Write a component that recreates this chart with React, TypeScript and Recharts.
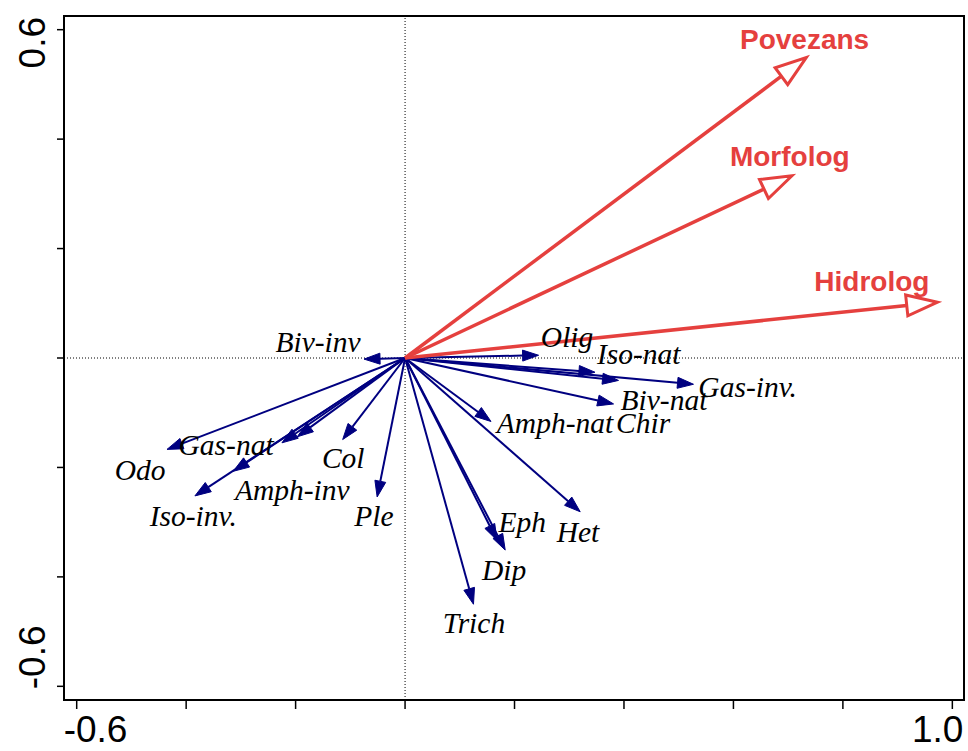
import React from 'react';
import {
  ScatterChart,
  Scatter,
  XAxis,
  YAxis,
  ReferenceLine,
  ReferenceArea,
} from 'recharts';

// environmental vectors (red)
const envNames = ['Povezans', 'Morfolog', 'Hidrolog'];
const envX = [0.733, 0.707, 0.973];
const envY = [0.549, 0.333, 0.102];
const envLabelX = [0.73, 0.703, 0.853];
const envLabelY = [0.584, 0.369, 0.141];

// taxa vectors (blue), tips
const taxaX = [
  -0.075, 0.244, 0.347, 0.39, 0.527, 0.381, 0.157, 0.32, 0.168, 0.183, 0.125,
  -0.051, -0.114, -0.225, -0.197, -0.314, -0.384, -0.435,
];
const taxaY = [
  -0.002, 0.005, -0.026, -0.041, -0.048, -0.084, -0.116, -0.281, -0.333, -0.351,
  -0.45, -0.254, -0.149, -0.155, -0.144, -0.207, -0.252, -0.167,
];

// taxa labels
const labelNames = [
  'Biv-inv', 'Olig', 'Iso-nat', 'Gas-inv.', 'Biv-nat', 'Amph-nat', 'Chir', 'Het',
  'Eph', 'Dip', 'Trich', 'Ple', 'Col', 'Gas-nat', 'Odo', 'Amph-inv', 'Iso-inv.',
];
const labelX = [
  -0.159, 0.296, 0.427, 0.626, 0.473, 0.274, 0.435, 0.316, 0.214, 0.181, 0.126,
  -0.057, -0.113, -0.327, -0.484, -0.206, -0.387,
];
const labelY = [
  0.029, 0.038, 0.007, -0.053, -0.077, -0.119, -0.119, -0.318, -0.3, -0.387,
  -0.484, -0.289, -0.184, -0.159, -0.205, -0.241, -0.289,
];

const xTicks = [-0.6, -0.4, -0.2, 0, 0.2, 0.4, 0.6, 0.8, 1.0];
const yTicks = [-0.6, -0.4, -0.2, 0, 0.2, 0.4, 0.6];
const xDomain = [-0.6232, 1.0213];
const yDomain = [-0.625, 0.625];

const BLUE = '#000080';
const RED = '#e5403e';

type Pt = { x: number; y: number };

function arrowLine(color: string, width: number, len: number, half: number, open: boolean) {
  return (props: any) => {
    const pts: Pt[] = props.points || [];
    if (pts.length < 2) return <g />;
    const [a, b] = pts;
    const dx = b.x - a.x;
    const dy = b.y - a.y;
    const d = Math.hypot(dx, dy) || 1;
    const ux = dx / d;
    const uy = dy / d;
    const bx = b.x - ux * len;
    const by = b.y - uy * len;
    const px = -uy;
    const py = ux;
    const tri = `${b.x},${b.y} ${bx + px * half},${by + py * half} ${bx - px * half},${by - py * half}`;
    return (
      <g>
        <line x1={a.x} y1={a.y} x2={bx} y2={by} stroke={color} strokeWidth={width} />
        <polygon
          points={tri}
          fill={open ? '#fff' : color}
          stroke={color}
          strokeWidth={open ? 3 : 1}
          strokeLinejoin="miter"
        />
      </g>
    );
  };
}

const XTick = (props: any) => {
  const { x, y, payload } = props;
  const v = payload.value;
  if (v !== -0.6 && v !== 1) return <g />;
  return (
    <text
      x={v < 0 ? x - 13 : x + 11}
      y={y + 31}
      textAnchor={v < 0 ? 'start' : 'end'}
      fontFamily="Liberation Sans, Arial, sans-serif"
      fontSize={37}
      fill="#000"
    >
      {v < 0 ? '-0.6' : '1.0'}
    </text>
  );
};

const YTick = (props: any) => {
  const { x, y, payload } = props;
  const v = payload.value;
  if (v !== -0.6 && v !== 0.6) return <g />;
  const cy = v > 0 ? y + 13 : y - 29;
  const bx = x - 10;
  return (
    <text
      x={bx}
      y={cy}
      transform={`rotate(-90, ${bx}, ${cy})`}
      textAnchor="middle"
      fontFamily="Liberation Sans, Arial, sans-serif"
      fontSize={37}
      fill="#000"
    >
      {v > 0 ? '0.6' : '-0.6'}
    </text>
  );
};

const taxaLabels = labelNames.map((name, i) => ({ name, x: labelX[i], y: labelY[i] }));
const envLabels = envNames.map((name, i) => ({ name, x: envLabelX[i], y: envLabelY[i] }));

export default function App() {
  return (
    <div style={{ position: 'absolute', left: 0, top: 0, width: 968, height: 751, background: '#fff' }}>
      <ScatterChart width={968} height={751} margin={{ top: 16, right: 4, bottom: 0, left: 0 }}>
        <XAxis
          type="number"
          dataKey="x"
          domain={xDomain}
          allowDataOverflow
          ticks={xTicks}
          interval={0}
          height={51}
          axisLine={false}
          tickSize={9}
          tickLine={{ stroke: '#000', strokeWidth: 1.5 }}
          tick={<XTick />}
        />
        <YAxis
          type="number"
          dataKey="y"
          domain={yDomain}
          allowDataOverflow
          ticks={yTicks}
          interval={0}
          width={64}
          axisLine={false}
          tickSize={7}
          tickLine={{ stroke: '#000', strokeWidth: 1.5 }}
          tick={<YTick />}
        />
        <ReferenceLine x={0} stroke="#000" strokeWidth={1} strokeDasharray="1 2" />
        <ReferenceLine y={0} stroke="#000" strokeWidth={1} strokeDasharray="1 2" />
        <ReferenceArea
          x1={xDomain[0]}
          x2={xDomain[1]}
          y1={yDomain[0]}
          y2={yDomain[1]}
          fill="none"
          fillOpacity={0}
          stroke="#000"
          strokeWidth={2}
        />
        {taxaX.map((tx, i) => (
          <Scatter
            key={'taxon' + i}
            data={[{ x: 0, y: 0 }, { x: tx, y: taxaY[i] }]}
            fill={BLUE}
            shape={() => <g />}
            line={arrowLine(BLUE, 2, 16, 5.5, false)}
            isAnimationActive={false}
          />
        ))}
        {envX.map((ex, i) => (
          <Scatter
            key={'env' + i}
            data={[{ x: 0, y: 0 }, { x: ex, y: envY[i] }]}
            fill={RED}
            shape={() => <g />}
            line={arrowLine(RED, 3.5, 31, 10.5, true)}
            isAnimationActive={false}
          />
        ))}
        <Scatter
          data={taxaLabels}
          isAnimationActive={false}
          shape={(p: any) => (
            <text
              x={p.cx}
              y={p.cy}
              dy="0.33em"
              textAnchor="middle"
              fontFamily="Liberation Serif, Times New Roman, serif"
              fontStyle="italic"
              fontSize={29.5}
              fill="#000"
            >
              {p.payload.name}
            </text>
          )}
        />
        <Scatter
          data={envLabels}
          isAnimationActive={false}
          shape={(p: any) => (
            <text
              x={p.cx}
              y={p.cy}
              dy="0.36em"
              textAnchor="middle"
              fontFamily="Liberation Sans, Arial, sans-serif"
              fontWeight="bold"
              fontSize={28}
              fill={RED}
            >
              {p.payload.name}
            </text>
          )}
        />
      </ScatterChart>
    </div>
  );
}
